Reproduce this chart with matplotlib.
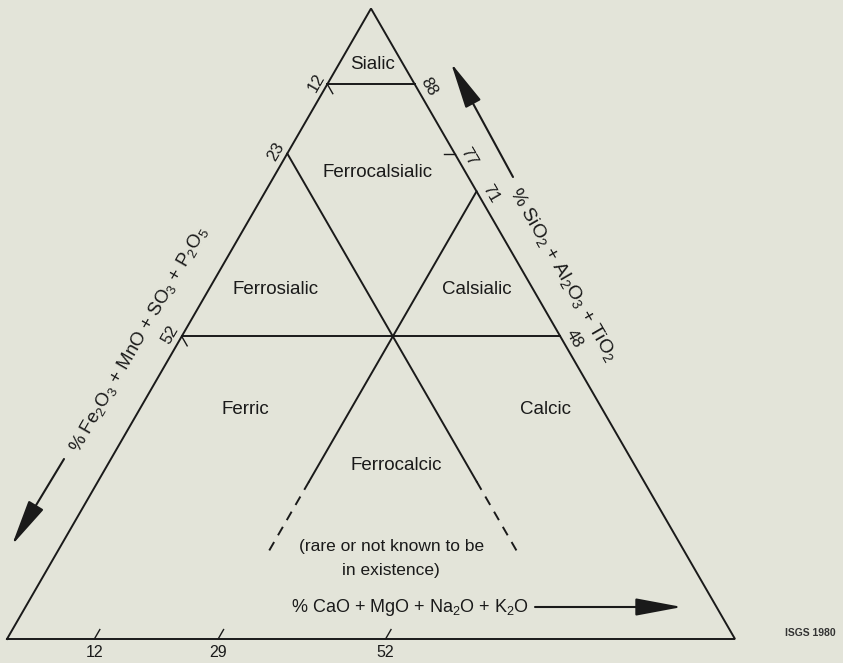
import numpy as np
import matplotlib.pyplot as plt

plt.rcParams['font.family'] = ['Liberation Sans', 'DejaVu Sans']
plt.rcParams['mathtext.fontset'] = 'custom'
plt.rcParams['mathtext.rm'] = 'Liberation Sans'
plt.rcParams['mathtext.default'] = 'regular'

# ternary: A = SiO2+Al2O3+TiO2 (apex), F = Fe2O3+MnO+SO3+P2O5 (left), C = CaO+MgO+Na2O+K2O (right)
sialic_A = 88          # Sialic boundary
lower_A = 48           # lower horizontal boundary
fe_split = 23          # constant-Fe boundary
ca_split = 29          # constant-Ca boundary
solid_end_A = 25       # boundaries become dashed below this
dashed_end_A = 13

left_ticks = [12, 23, 52]        # % Fe2O3... on left edge
right_ticks = [88, 77, 71, 48]   # % SiO2... on right edge
bottom_ticks = [12, 29, 52]      # % CaO... along the base

fields = ['Sialic', 'Ferrocalsialic', 'Ferrosialic', 'Calsialic',
          'Ferric', 'Calcic', 'Ferrocalcic']

ink = '#1a1a1a'
bg = '#e3e4d9'


def tern(a, f, c):
    a, f, c = np.asarray(a, float), np.asarray(f, float), np.asarray(c, float)
    s = a + f + c
    return c / s + a / s / 2, a / s * np.sqrt(3) / 2


def px(xp, yp):
    # picture pixel -> data coordinates
    return (xp - 7) / 728, (639 - yp) / 728


# where the field names sit (picture pixels)
field_xy = [(373, 65), (378, 173), (276, 290), (477, 290),
            (245, 410), (545, 410), (396, 465)]

fig = plt.figure(figsize=(8.43, 6.63), dpi=100, facecolor=bg)
ax = fig.add_axes([0, 0, 1, 1])
ax.set_facecolor(bg)
ax.set_xlim(-7 / 728, 836 / 728)
ax.set_ylim(-24 / 728, 639 / 728)
ax.axis('off')

lw = 1.4
# outer triangle
x, y = tern([0, 0, 100, 0], [100, 0, 0, 100], [0, 100, 0, 0])
ax.plot(x, y, color=ink, lw=lw, solid_joinstyle='miter')

# horizontal boundaries
for a in [sialic_A, lower_A]:
    x, y = tern([a, a], [100 - a, 0], [0, 100 - a])
    ax.plot(x, y, color=ink, lw=lw)

# constant-Fe boundary (parallel to right edge)
x, y = tern([100 - fe_split, solid_end_A], [fe_split, fe_split],
            [0, 100 - fe_split - solid_end_A])
ax.plot(x, y, color=ink, lw=lw)
x, y = tern([solid_end_A, dashed_end_A], [fe_split, fe_split],
            [100 - fe_split - solid_end_A, 100 - fe_split - dashed_end_A])
ax.plot(x, y, color=ink, lw=lw, ls=(0, (5, 4)))

# constant-Ca boundary (parallel to left edge)
x, y = tern([100 - ca_split, solid_end_A], [0, 100 - ca_split - solid_end_A],
            [ca_split, ca_split])
ax.plot(x, y, color=ink, lw=lw)
x, y = tern([solid_end_A, dashed_end_A],
            [100 - ca_split - solid_end_A, 100 - ca_split - dashed_end_A],
            [ca_split, ca_split])
ax.plot(x, y, color=ink, lw=lw, ls=(0, (5, 4)))

# small ticks
tk = 1.5
for f in [12, 52]:
    x, y = tern([100 - f, 100 - f - tk], [f, f], [0, tk])
    ax.plot(x, y, color=ink, lw=1.0)
x, y = tern([77, 77], [0, tk], [23, 23 - tk])
ax.plot(x, y, color=ink, lw=1.0)
for c in bottom_ticks:
    x, y = tern([0, tk], [100 - c, 100 - c - tk], [c, c])
    ax.plot(x, y, color=ink, lw=1.0)

# tick labels
fs_tick = 12
for f in left_ticks:
    x, y = tern(100 - f, f, 0)
    ax.annotate(str(f), (x, y), xytext=(-8, 1), textcoords='offset points',
                rotation=60, ha='center', va='center', fontsize=fs_tick,
                color=ink, rotation_mode='anchor')
for a in right_ticks:
    x, y = tern(a, 0, 100 - a)
    ax.annotate(str(a), (x, y), xytext=(10, -2), textcoords='offset points',
                rotation=-60, ha='center', va='center', fontsize=fs_tick,
                color=ink, rotation_mode='anchor')
for c in bottom_ticks:
    x, y = tern(0, 100 - c, c)
    ax.annotate(str(c), (x, y), xytext=(0, -10), textcoords='offset points',
                ha='center', va='center', fontsize=11.5, color=ink)

# field names
for name, (xp, yp) in zip(fields, field_xy):
    ax.text(*px(xp, yp), name, ha='center', va='center', fontsize=13.5,
            color=ink)

ax.text(*px(392, 547), '(rare or not known to be', ha='center', va='center',
        fontsize=12.5, color=ink)
ax.text(*px(391, 571), 'in existence)', ha='center', va='center',
        fontsize=12.5, color=ink)

# axis titles and arrows
arrow = dict(arrowstyle='-|>,head_length=1.6,head_width=0.3', color=ink,
             lw=1.5, mutation_scale=18, shrinkA=0, shrinkB=0)

ax.text(*px(139, 339), r'% Fe$_2$O$_3$ + MnO + SO$_3$ + P$_2$O$_5$',
        rotation=60, ha='center', va='center', fontsize=13.5, color=ink,
        rotation_mode='anchor')
ax.annotate('', xy=px(12, 545), xytext=px(64, 459), arrowprops=arrow)

ax.text(*px(563, 275), r'% SiO$_2$ + Al$_2$O$_3$ + TiO$_2$',
        rotation=-60, ha='center', va='center', fontsize=14, color=ink,
        rotation_mode='anchor')
ax.annotate('', xy=px(451, 63), xytext=px(513, 177), arrowprops=arrow)

ax.text(*px(410, 607), r'% CaO + MgO + Na$_2$O + K$_2$O',
        ha='center', va='center', fontsize=13, color=ink)
ax.annotate('', xy=px(682, 607), xytext=px(535, 607), arrowprops=arrow)

ax.text(*px(810, 633), 'ISGS 1980', ha='center', va='center', fontsize=7.5,
        fontweight='bold', color='#333333')

fig.savefig('out.png', dpi=100, facecolor=bg)
